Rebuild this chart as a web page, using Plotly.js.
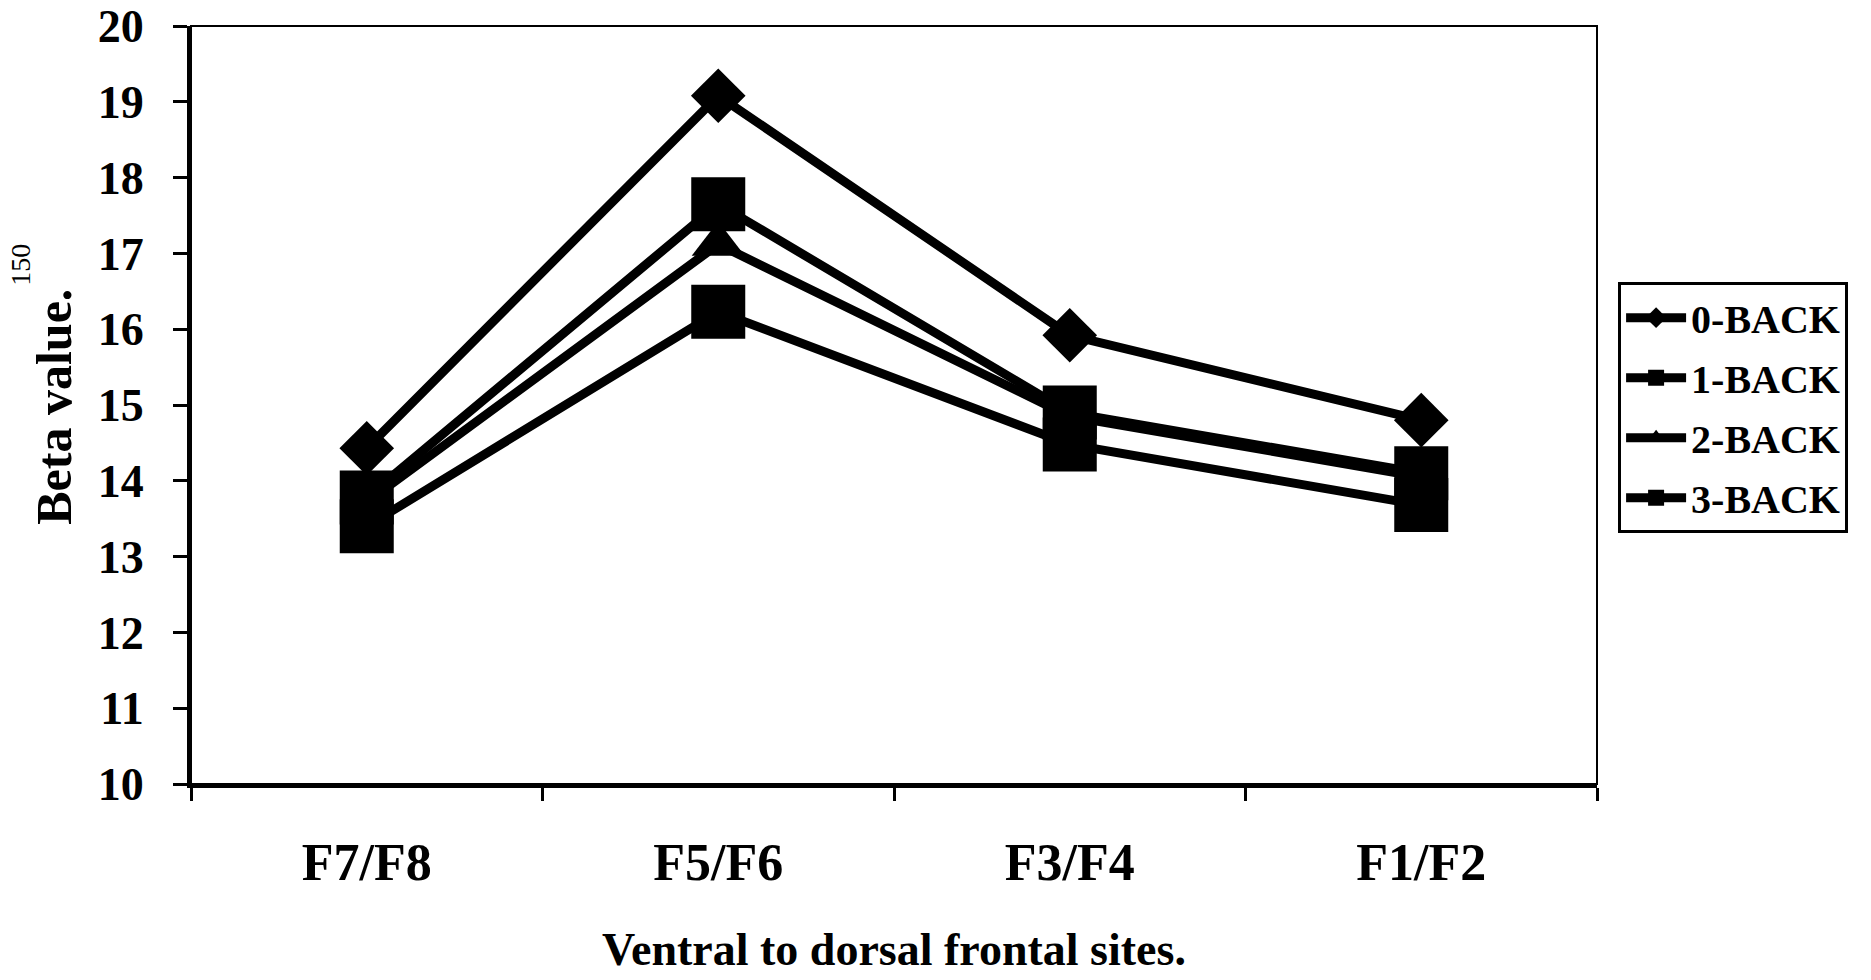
<!DOCTYPE html>
<html>
<head>
<meta charset="utf-8">
<script src="https://cdn.plot.ly/plotly-3.0.1.min.js"></script>
<style>html,body{margin:0;padding:0;background:#fff;}#chart{width:1871px;height:980px;}</style>
</head>
<body>
<div id="chart"></div>
<script>
const sites = ["F7/F8", "F5/F6", "F3/F4", "F1/F2"];
const back0 = [14.43, 19.08, 15.92, 14.80];
const back1 = [13.78, 17.65, 14.90, 14.10];
const back2 = [13.72, 17.12, 14.85, 14.05];
const back3 = [13.40, 16.23, 14.48, 13.68];
const seriesNames = ["0-BACK", "1-BACK", "2-BACK", "3-BACK"];
const yTicks = [10, 11, 12, 13, 14, 15, 16, 17, 18, 19, 20];

const FONT = "Liberation Serif, 'DejaVu Serif', serif";
const symbols = ["diamond", "square", "triangle-up", "square"];
const sizes = [42, 54, 46, 54];
const data = [back0, back1, back2, back3].map((vals, i) => ({
  type: "scatter",
  mode: "lines+markers",
  x: sites,
  y: vals,
  name: seriesNames[i],
  legendgroup: "g" + i,
  line: {color: "#000", width: 9},
  marker: {symbol: symbols[i], size: sizes[i], color: "#000"}
}));

const layout = {
  width: 1871,
  height: 980,
  paper_bgcolor: "#fff",
  plot_bgcolor: "#fff",
  margin: {l: 191, r: 274, t: 26, b: 196},
  font: {family: FONT, color: "#000", size: 40, weight: "bold"},
  showlegend: true,
  legend: {
    x: 1.015, xanchor: "left", y: 0.662, yanchor: "top",
    bordercolor: "#000", borderwidth: 3,
    font: {family: FONT, size: 40, color: "#000", weight: "bold"},
    tracegroupgap: 5,
    traceorder: "grouped",
    itemwidth: 60
  },
  xaxis: {
    type: "category",
    range: [-0.5, 3.5],
    tickson: "boundaries",
    ticks: "outside", ticklen: 13, tickwidth: 3, tickcolor: "#000",
    showline: true, linewidth: 4, linecolor: "#000",
    showgrid: false, zeroline: false,
    tickfont: {family: FONT, size: 52, color: "#000", weight: "bold"},
    ticklabelstandoff: 30,
    fixedrange: true
  },
  yaxis: {
    range: [10, 20],
    tickvals: yTicks,
    ticktext: yTicks.map(String),
    ticks: "outside", ticklen: 14, tickwidth: 3, tickcolor: "#000",
    showline: true, linewidth: 4, linecolor: "#000",
    showgrid: false, zeroline: false,
    tickfont: {family: FONT, size: 46, color: "#000", weight: "bold"},
    ticklabelstandoff: 20,
    fixedrange: true
  },
  shapes: [{
    type: "rect", xref: "paper", yref: "paper", x0: 0, x1: 1, y0: 0, y1: 1,
    line: {color: "#000", width: 2}, fillcolor: "rgba(0,0,0,0)", layer: "below"
  }],
  annotations: [
    {text: "Ventral to dorsal frontal sites.", xref: "paper", yref: "paper",
     x: 0.5, y: -0.218, xanchor: "center", yanchor: "middle", showarrow: false,
     font: {family: FONT, size: 46, color: "#000", weight: "bold"}},
    {text: "Beta value.", xref: "paper", yref: "paper",
     x: -0.098, y: 0.498, xanchor: "center", yanchor: "middle", showarrow: false,
     textangle: -90,
     font: {family: FONT, size: 50, color: "#000", weight: "bold"}},
    {text: "150", xref: "paper", yref: "paper",
     x: -0.121, y: 0.685, xanchor: "center", yanchor: "middle", showarrow: false,
     textangle: -90,
     font: {family: FONT, size: 28, color: "#000", weight: "normal"}}
  ]
};

Plotly.newPlot("chart", data, layout, {displayModeBar: false, staticPlot: true});
</script>
</body>
</html>
